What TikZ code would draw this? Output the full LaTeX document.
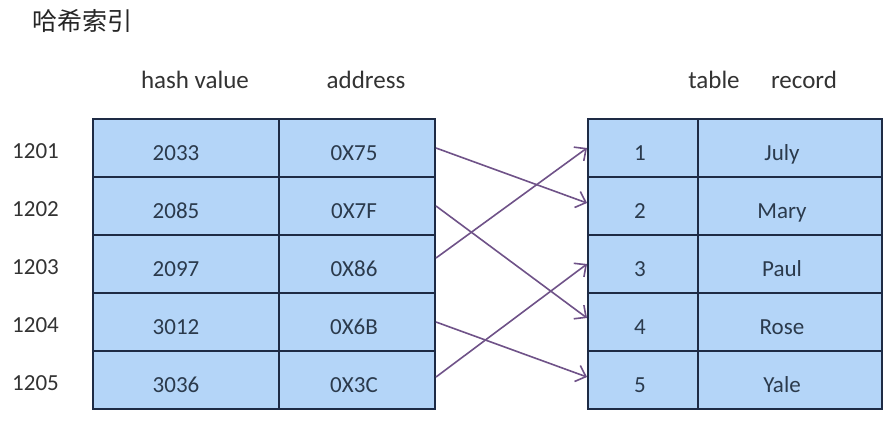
\documentclass[tikz,border=0pt]{standalone}
\usepackage{fontspec}
\setmainfont{Carlito}
\newfontfamily\cjk{Noto Sans CJK SC}
\usetikzlibrary{arrows.meta}
\definecolor{cellfill}{HTML}{B4D5F8}
\definecolor{cellline}{HTML}{1E2B45}
\definecolor{txtc}{HTML}{2B3A4C}
\definecolor{arrc}{HTML}{6F5288}
\begin{document}
\begin{tikzpicture}[x=1pt,y=-1pt,
  cell/.style={draw=cellline, fill=cellfill, line width=2pt, minimum height=58pt, inner sep=0pt},
  ctext/.style={font=\fontsize{23}{26}\selectfont, text=txtc, anchor=base, inner sep=0pt},
  htext/.style={font=\fontsize{25}{28}\selectfont, text=black!80, anchor=base, inner sep=0pt},
  rtext/.style={font=\fontsize{23}{26}\selectfont, text=black!80, anchor=base west, inner sep=0pt},
  link/.style={draw=arrc, line width=1.6pt, -{Straight Barb[length=9pt,width=17pt,line width=1.6pt]}}]
\useasboundingbox (0,0) rectangle (896,424);
\fill[white] (0,0) rectangle (896,424);

% title
\node[font=\cjk\fontsize{25}{28}\selectfont, text=black!85, anchor=west, inner sep=0pt] (title) at (32,21) {哈希索引};

% headers
\node[htext] (hh) at (195,88) {hash value};
\node[htext] (ha) at (366,88) {address};
\node[htext] (ht) at (714,88) {table};
\node[htext] (hr) at (804,88) {record};

% left table
\foreach \i/\hv/\ad/\k in {1/2033/0X75/1201, 2/2085/0X7F/1202, 3/2097/0X86/1203, 4/3012/0X6B/1204, 5/3036/0X3C/1205}{
  \pgfmathsetmacro{\yc}{90+58*\i}
  \node[cell, minimum width=186pt] (H\i) at (186,\yc) {};
  \node[cell, minimum width=156pt] (L\i) at (357,\yc) {};
  \node[ctext] (H\i t) at (176,\yc+12) {\hv};
  \node[ctext] (L\i t) at (354,\yc+12) {\ad};
  \node[rtext] (K\i) at (12,\yc+10) {\k};
}

% right table
\foreach \i/\rec in {1/July, 2/Mary, 3/Paul, 4/Rose, 5/Yale}{
  \pgfmathsetmacro{\yc}{90+58*\i}
  \node[cell, minimum width=110pt] (R\i) at (643,\yc) {};
  \node[cell, minimum width=184pt] (V\i) at (790,\yc) {};
  \node[ctext] (R\i t) at (640,\yc+12) {\i};
  \node[ctext] (V\i t) at (782,\yc+12) {\rec};
}

% links
\draw[link] (L1.east) -- ([yshift=3pt]R2.west);
\draw[link] (L2.east) -- ([yshift=4pt]R4.west);
\draw[link] ([yshift=6pt]L3.east) -- (R1.west);
\draw[link] (L4.east) -- ([yshift=3pt]R5.west);
\draw[link] ([yshift=3pt]L5.east) -- (R3.west);
\end{tikzpicture}
\end{document}
